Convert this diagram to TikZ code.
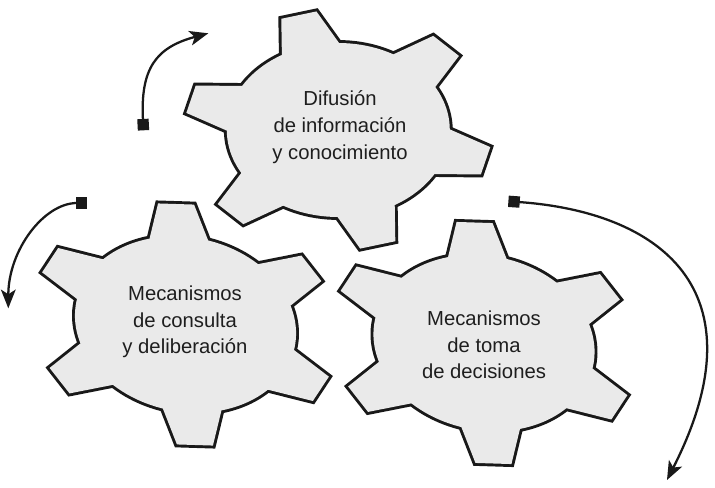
\documentclass[tikz,border=0pt]{standalone}
\usepackage{fontspec}
\setmainfont{Liberation Sans}
\usetikzlibrary{arrows.meta}
\definecolor{gearfill}{RGB}{234,234,234}
\definecolor{txt}{RGB}{30,30,30}
\tikzset{
  gearline/.style={draw=black!90, line width=4.4pt, line join=miter},
  gearbody/.style={fill=gearfill},
  geartext/.style={align=center, text=txt, font=\fontsize{15.2}{20}\selectfont},
  cyclearrow/.style={draw=black!90, line width=1.7pt,
    {Square[length=8.5pt,width=8.5pt]}-{Stealth[length=14pt,width=11pt,inset=3.5pt]}},
}
% #1,#2 centre, #3 tilt of the stretch axis, #4 phase of the teeth
\newcommand\drawgear[4]{%
  \begin{scope}[shift={(#1,#2)}, rotate=#3, xscale=111.5, yscale=87]
    \draw[gearline] (0,0) circle[radius=1]
      \foreach \k in {0,...,5}{
        ({#4+90+60*\k-15.4}:0.8) -- ({#4+90+60*\k-15.4}:1) -- ({#4+90+60*\k-6.8}:1.377)
        -- ({#4+90+60*\k+6.8}:1.377) -- ({#4+90+60*\k+15.4}:1) -- ({#4+90+60*\k+15.4}:0.8) -- cycle};
    \fill[gearbody] (0,0) circle[radius=1];
    \foreach \k in {0,...,5}{
      \fill[gearbody] ({#4+90+60*\k-15.4}:0.8) -- ({#4+90+60*\k-15.4}:1) -- ({#4+90+60*\k-6.8}:1.377)
        -- ({#4+90+60*\k+6.8}:1.377) -- ({#4+90+60*\k+15.4}:1) -- ({#4+90+60*\k+15.4}:0.8) -- cycle;}
  \end{scope}}
\begin{document}
\begin{tikzpicture}[x=0.75pt,y=0.75pt]
\useasboundingbox (0,0) rectangle (715,487);
\fill[white] (0,0) rectangle (715,487);
\drawgear{338.3}{357}{0}{15}
\drawgear{185.5}{162.5}{-12}{13}
\drawgear{484}{144}{-12}{13}
\node[geartext] (t1) at (340,360) {Difusión\\de información\\y conocimiento};
\node[geartext] (t2) at (185,165) {Mecanismos\\de consulta\\y deliberación};
\node[geartext] (t3) at (484,142) {Mecanismos\\de toma\\de decisiones};
\coordinate (a1s) at (143.5,356.7);
\coordinate (a1e) at (208.3,453.7);
\draw[cyclearrow] (a1s) .. controls +(93:61.7) and +(195:54.5) .. (a1e);
\coordinate (a2s) at (87.3,284);
\coordinate (a2e) at (8.3,178.7);
\draw[cyclearrow] (a2s) .. controls +(180:43.5) and +(90:58) .. (a2e);
\coordinate (a3s) at (508.4,285.7);
\coordinate (a3e) at (667,7);
\draw[cyclearrow] (a3s) .. controls +(-4:150) and +(63:215) .. (a3e);
\end{tikzpicture}
\end{document}
